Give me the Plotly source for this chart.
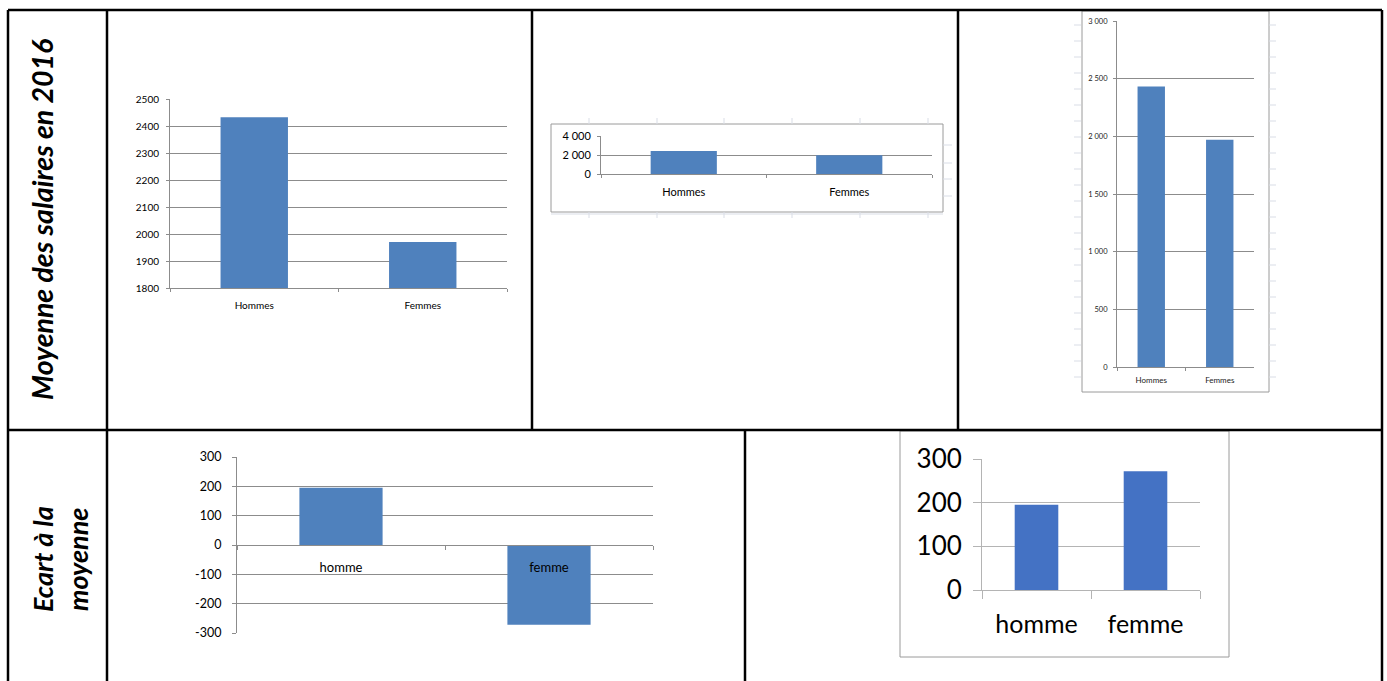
import plotly.graph_objects as go

# ---------------- data ----------------
sexes = ["Hommes", "Femmes"]
moyenne_salaires = [2432, 1970]

ecart_labels = ["homme", "femme"]
ecart_moyenne = [195, -272]
ecart_abs = [195, 272]

ticks1 = [1800, 1900, 2000, 2100, 2200, 2300, 2400, 2500]
ticklabels1 = ["1800", "1900", "2000", "2100", "2200", "2300", "2400", "2500"]
ticks2 = [0, 2000, 4000]
ticklabels2 = ["0", "2 000", "4 000"]
ticks3 = [0, 500, 1000, 1500, 2000, 2500, 3000]
ticklabels3 = ["0", "500", "1 000", "1 500", "2 000", "2 500", "3 000"]
ticks4 = [-300, -200, -100, 0, 100, 200, 300]
ticklabels4 = ["-300", "-200", "-100", "0", "100", "200", "300"]
ticks5 = [0, 100, 200, 300]
ticklabels5 = ["0", "100", "200", "300"]

row_label_1 = "Moyenne des salaires en 2016"
row_label_2a = "Ecart à la"
row_label_2b = "moyenne"

# ---------------- layout helpers ----------------
W, H = 1387, 681
FONT = "Lato"
BLUE07 = "#4F81BD"
BLUE13 = "#4472C4"
GRID07 = "#8C8C8C"
GRID13 = "#B4B4B4"


def dx(a, b):
    return [a / W, b / W]


def dy(top, bottom):
    return [1 - bottom / H, 1 - top / H]


fig = go.Figure()

fig.add_trace(go.Bar(x=sexes, y=moyenne_salaires, width=0.4, marker_color=BLUE07,
                     marker_line_width=0, xaxis="x", yaxis="y"))
fig.add_trace(go.Bar(x=sexes, y=moyenne_salaires, width=0.4, marker_color=BLUE07,
                     marker_line_width=0, xaxis="x2", yaxis="y2"))
fig.add_trace(go.Bar(x=sexes, y=moyenne_salaires, width=0.4, marker_color=BLUE07,
                     marker_line_width=0, xaxis="x3", yaxis="y3"))
fig.add_trace(go.Bar(x=ecart_labels, y=ecart_moyenne, width=0.4, marker_color=BLUE07,
                     marker_line_width=0, xaxis="x4", yaxis="y4"))
fig.add_trace(go.Bar(x=ecart_labels, y=ecart_abs, width=0.4, marker_color=BLUE13,
                     marker_line_width=0, xaxis="x5", yaxis="y5"))


def xaxis(domain, anchor, fs, color, standoff, ticklen=4, linecolor=GRID07, **kw):
    d = dict(domain=domain, anchor=anchor, type="category", range=[-0.5, 1.5],
             showline=True, linecolor=linecolor, linewidth=1,
             ticks="outside", tickson="boundaries", ticklen=ticklen, tickcolor=linecolor,
             showgrid=False, zeroline=False, fixedrange=True, automargin=False,
             tickfont=dict(family=FONT, size=fs, color=color),
             ticklabelstandoff=standoff)
    d.update(kw)
    return d


def yaxis(domain, anchor, rng, vals, texts, fs, color, standoff, ticklen=4,
          linecolor=GRID07, gridcolor=GRID07):
    return dict(domain=domain, anchor=anchor, range=rng, tickmode="array",
                tickvals=vals, ticktext=texts, showline=True, linecolor=linecolor,
                linewidth=1, ticks="outside", ticklen=ticklen, tickcolor=linecolor,
                showgrid=True, gridcolor=gridcolor, gridwidth=1, zeroline=False,
                fixedrange=True, automargin=False,
                tickfont=dict(family=FONT, size=fs, color=color),
                ticklabelstandoff=standoff)


d1x, d1y = dx(170, 507), dy(99, 288)
d2x, d2y = dx(601, 932), dy(136, 174)
d3x, d3y = dx(1117, 1254), dy(21, 367)
d4x, d4y = dx(237, 653), dy(457, 633)
d5x, d5y = dx(982, 1200), dy(459, 590)

r4 = [ticks4[0], ticks4[-1]]
zero_pos4 = d4y[0] + (0 - r4[0]) / (r4[1] - r4[0]) * (d4y[1] - d4y[0])

fig.update_layout(
    template="none",
    width=W, height=H, margin=dict(l=0, r=0, t=0, b=0, autoexpand=False),
    paper_bgcolor="white", plot_bgcolor="rgba(0,0,0,0)", showlegend=False,
    xaxis=xaxis(d1x, "y", 10, "#000", 8, ticklen=3),
    yaxis=yaxis(d1y, "x", [1800, 2500], ticks1, ticklabels1, 10, "#000", 5, ticklen=3),
    xaxis2=xaxis(d2x, "y2", 11, "#000", 8, ticklen=3),
    yaxis2=yaxis(d2y, "x2", [0, 4000], ticks2, ticklabels2, 11, "#000", 4, ticklen=3),
    xaxis3=xaxis(d3x, "y3", 8, "#222", 5, ticklen=3),
    yaxis3=yaxis(d3y, "x3", [0, 3000], ticks3, ticklabels3, 7.5, "#222", 4, ticklen=3),
    xaxis4=xaxis(d4x, "free", 13, "#000", 10, ticklen=4, position=zero_pos4),
    yaxis4=yaxis(d4y, "x4", r4, ticks4, ticklabels4, 12.5, "#000", 8, ticklen=4),
    xaxis5=xaxis(d5x, "y5", 25, "#000", 12, ticklen=8, linecolor=GRID13),
    yaxis5=yaxis(d5y, "x5", [0, 300], ticks5, ticklabels5, 26, "#000", 6, ticklen=8,
                 linecolor=GRID13, gridcolor=GRID13),
)

shapes = []


def line(x0, y0, x1, y1, color="black", width=2.5):
    shapes.append(dict(type="line", xref="paper", yref="paper",
                       x0=x0 / W, y0=1 - y0 / H, x1=x1 / W, y1=1 - y1 / H,
                       line=dict(color=color, width=width), layer="above"))


def rect(x0, y0, x1, y1, color="#A6A6A6", width=1):
    shapes.append(dict(type="rect", xref="paper", yref="paper",
                       x0=x0 / W, y0=1 - y1 / H, x1=x1 / W, y1=1 - y0 / H,
                       line=dict(color=color, width=width), fillcolor="rgba(0,0,0,0)",
                       layer="below"))


SHEET = "#D9DDE6"
for xv in [589, 657, 724, 792, 860, 928]:
    line(xv, 118, xv, 124, SHEET, 1)
    line(xv, 212, xv, 218, SHEET, 1)
line(551, 214, 943, 214, SHEET, 1)
for yv in [145, 163, 179, 196]:
    line(943, yv, 952, yv, SHEET, 1)
for yv in range(25, 392, 16):
    line(1074, yv, 1081, yv, SHEET, 1)
    line(1269, yv, 1276, yv, SHEET, 1)

rect(551, 124, 943, 212, "#9A9A9A")
rect(1082, 11, 1269, 392, "#9A9A9A")
rect(900, 431, 1229, 657, "#9A9A9A")

line(8, 10, 1382, 10)
line(8, 430, 1382, 430)
line(8, 10, 8, 681)
line(107, 10, 107, 681)
line(532, 10, 532, 430)
line(958, 10, 958, 430)
line(745, 430, 745, 681)
line(1382, 10, 1382, 681)

fig.update_layout(shapes=shapes)

annotations = [
    dict(text="<b><i>%s</i></b>" % row_label_1, x=42 / W, y=1 - 220 / H,
         xref="paper", yref="paper", showarrow=False, textangle=-90,
         xanchor="center", yanchor="middle",
         font=dict(family=FONT, size=28.5, color="black")),
    dict(text="<b><i>%s</i></b>" % row_label_2a, x=42 / W, y=1 - 559 / H,
         xref="paper", yref="paper", showarrow=False, textangle=-90,
         xanchor="center", yanchor="middle",
         font=dict(family=FONT, size=27, color="black")),
    dict(text="<b><i>%s</i></b>" % row_label_2b, x=77 / W, y=1 - 560 / H,
         xref="paper", yref="paper", showarrow=False, textangle=-90,
         xanchor="center", yanchor="middle",
         font=dict(family=FONT, size=27, color="black")),
]
fig.update_layout(annotations=annotations)

fig.write_html("out.html", config={"displayModeBar": False})
